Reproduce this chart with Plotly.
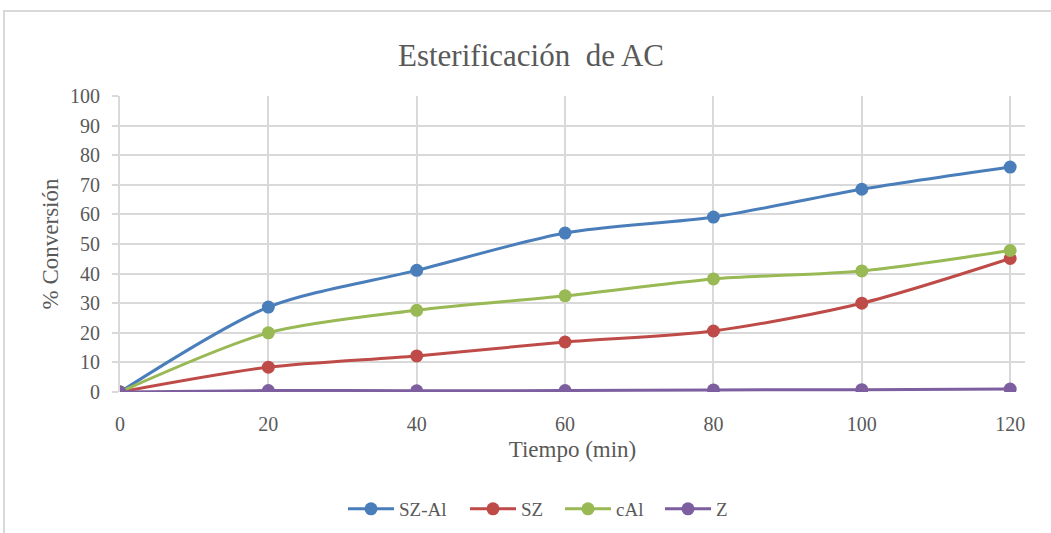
import plotly.graph_objects as go

tiempo = [0, 20, 40, 60, 80, 100, 120]
sz_al = [0, 28.7, 41.1, 53.7, 59.1, 68.5, 76.0]
sz = [0, 8.4, 12.2, 16.9, 20.6, 30.0, 45.1]
cal = [0, 20.0, 27.6, 32.5, 38.2, 40.9, 47.8]
z = [0, 0.5, 0.4, 0.5, 0.7, 0.8, 1.0]

series = [("SZ-Al", sz_al, "#4a7ebb"), ("SZ", sz, "#be4b48"),
          ("cAl", cal, "#98b954"), ("Z", z, "#7d5fa0")]
legend_px = [350, 472, 567, 667]

font = "Liberation Serif, Times New Roman, serif"
grey = "#595959"
fig = go.Figure()
legend_layouts = {}
for i, ((name, vals, col), lx) in enumerate(zip(series, legend_px)):
    lname = "legend" if i == 0 else f"legend{i + 1}"
    fig.add_trace(go.Scatter(x=tiempo, y=vals, name=name, mode="lines+markers",
                             line=dict(color=col, width=3, shape="spline", smoothing=0.8),
                             marker=dict(color=col, size=13), legend=lname))
    legend_layouts[lname] = dict(orientation="h", xref="container", x=(lx - 7) / 1051, xanchor="left",
                                 yref="container", y=(533 - 509) / 533, yanchor="middle",
                                 font=dict(size=19, color=grey, family=font), itemwidth=46,
                                 bgcolor="rgba(0,0,0,0)")

fig.update_layout(
    width=1051, height=533,
    paper_bgcolor="white", plot_bgcolor="white",
    margin=dict(l=120, r=26, t=96, b=141, autoexpand=False),
    font=dict(family=font, color=grey, size=20),
    title=dict(text="Esterificación  de AC", xref="container", x=531 / 1051,
               xanchor="center", yref="container", y=(533 - 55) / 533, yanchor="middle",
               font=dict(size=31, color=grey, family=font)),
    showlegend=True,
    xaxis=dict(range=[0, 122], tickvals=[0, 20, 40, 60, 80, 100, 120], showgrid=True,
               gridcolor="#d9d9d9", gridwidth=2, zeroline=False, showline=False,
               ticks="outside", ticklen=14, tickcolor="rgba(0,0,0,0)",
               tickfont=dict(size=20, family=font, color=grey),
               title=dict(text="Tiempo (min)", font=dict(size=23, family=font, color=grey), standoff=6)),
    yaxis=dict(range=[0, 100], dtick=10, showgrid=True, gridcolor="#d9d9d9", gridwidth=2,
               zeroline=False, showline=True, linecolor="#d9d9d9", linewidth=2,
               ticks="outside", ticklen=6, tickcolor="#d9d9d9", tickwidth=2,
               ticklabelstandoff=8,
               tickfont=dict(size=20, family=font, color=grey),
               title=dict(text="% Conversión", font=dict(size=23, family=font, color=grey), standoff=5)),
    shapes=[dict(type="rect", xref="paper", yref="paper",
                 x0=-116/905, x1=1.1, y0=-0.6, y1=(533-11-141)/296,
                 line=dict(color="#d9d9d9", width=2), fillcolor="rgba(0,0,0,0)", layer="below")],
    **legend_layouts,
)
fig.write_html("out.html")
